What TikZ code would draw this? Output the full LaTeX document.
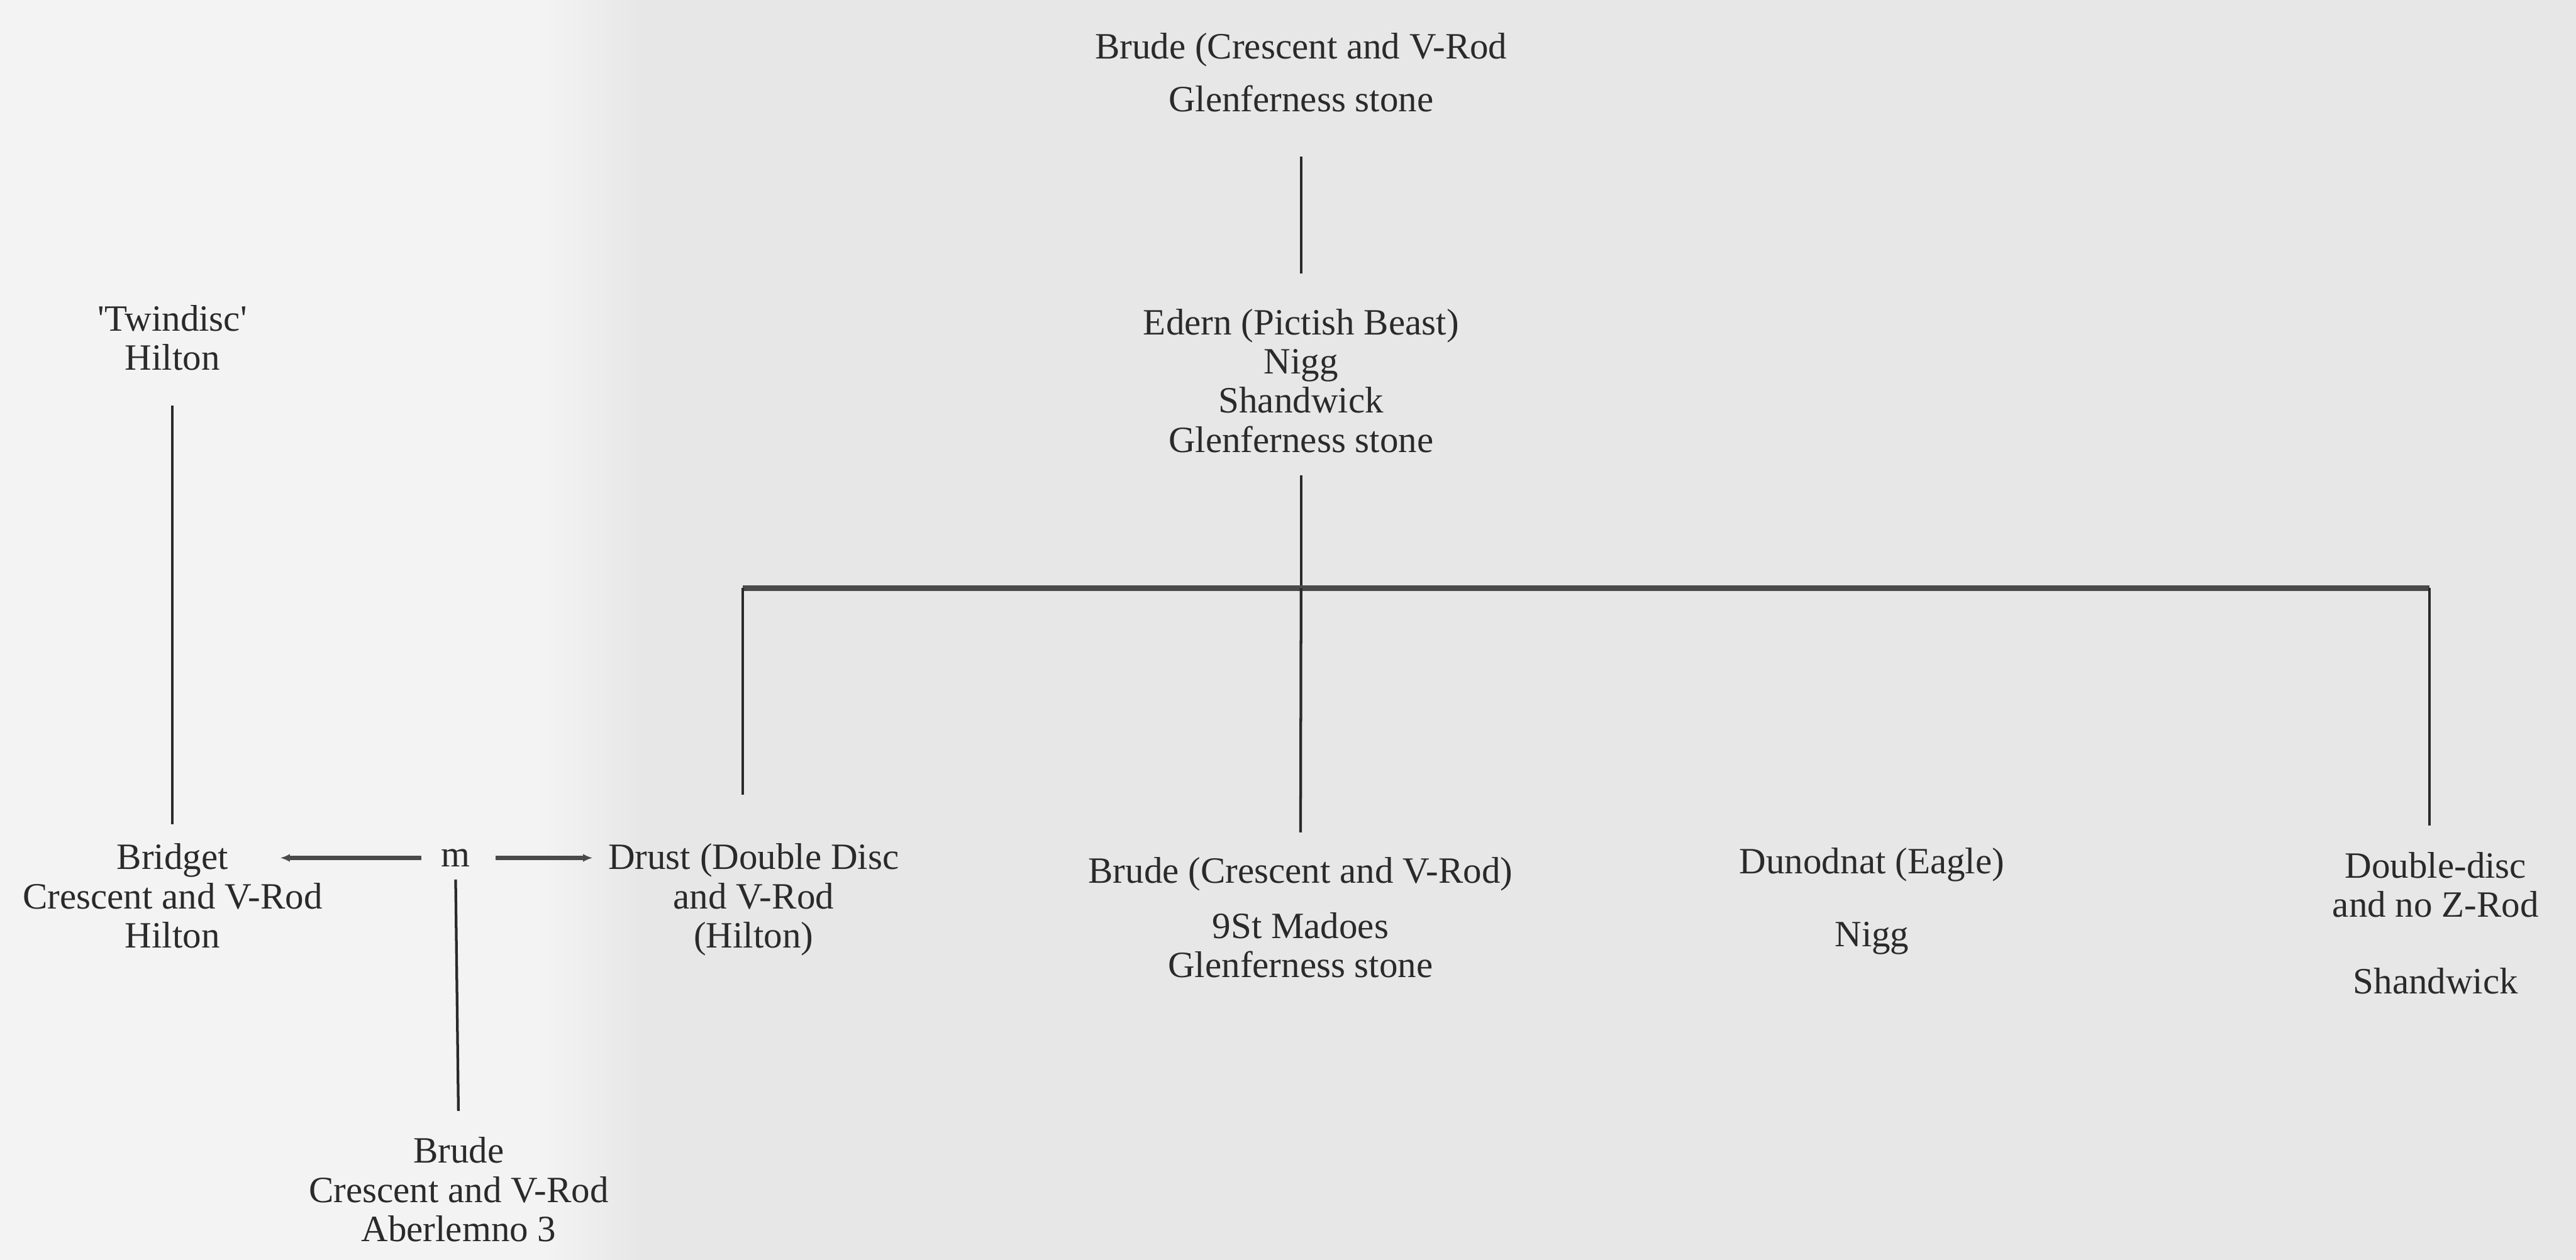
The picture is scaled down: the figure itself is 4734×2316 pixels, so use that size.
\documentclass[tikz,border=0pt]{standalone}
\usepackage{fontspec}
\setmainfont{Liberation Serif}
\usetikzlibrary{arrows.meta}
\definecolor{paper}{RGB}{231,231,231}
\definecolor{paperlight}{RGB}{243,243,243}
\definecolor{ink}{RGB}{42,42,42}
\begin{document}
\begin{tikzpicture}[x=0.01cm,y=-0.01cm,
        stone/.style={anchor=north,align=center,inner sep=0pt,text=ink,
            font=\fontsize{19.4pt}{20.5pt}\selectfont},
        link/.style={draw=ink,line width=1.4pt},
        bar/.style={draw=ink!85,line width=2.8pt},
        marriage/.style={draw=ink!85,line width=2.4pt,-{Latex[length=5pt,width=4.2pt]}}]
    \useasboundingbox (0,0) rectangle (4734,2316);
    \fill[paper] (0,0) rectangle (4734,2316);
    \fill[paperlight] (0,0) rectangle (1000,2316);
    \shade[left color=paperlight,right color=paper] (999,0) rectangle (1180,2316);

    \node[stone] (brudeTop) at (2391,60) {Brude (Crescent and V-Rod\\[7pt]Glenferness stone};
    \node[stone] (edern) at (2391,567) {Edern (Pictish Beast)\\Nigg\\Shandwick\\Glenferness stone};
    \node[stone] (twin) at (317,560) {\textquotesingle Twindisc\textquotesingle\\Hilton};
    \node[stone] (bridget) at (317,1550) {Bridget\\Crescent and V-Rod\\Hilton};
    \node[stone,anchor=center] (m) at (837,1577) {m};
    \node[stone] (drust) at (1385,1550) {Drust (Double Disc\\and V-Rod\\(Hilton)};
    \node[stone] (brude) at (2390,1575) {Brude (Crescent and V-Rod)\\[8.5pt]9St Madoes\\Glenferness stone};
    \node[stone] (dunodnat) at (3440,1558) {Dunodnat (Eagle)\\[17.5pt]Nigg};
    \node[stone] (dbldisc) at (4476,1566) {Double-disc\\and no Z-Rod\\[19.5pt]Shandwick};
    \node[stone] (brudeAb) at (843,2090) {Brude\\Crescent and V-Rod\\Aberlemno 3};

    \coordinate (fork) at (2391,1081);
    \coordinate (forkL) at (1365,1081);
    \coordinate (forkR) at (4465,1081);
    \coordinate (toBridget) at (515,1577);

    \draw[link,shorten <=0.82cm,shorten >=0.64cm] (brudeTop.south) -- (edern.north);
    \draw[link,shorten <=0.41cm] (edern.south) -- (fork);
    \draw[bar] (forkL) -- (forkR);
    \draw[link,shorten >=0.89cm] (forkL) -- (forkL |- drust.north);
    \draw[link,shorten >=0.45cm] (fork) -- (brude.north);
    \draw[link,shorten >=0.48cm] (forkR) -- (forkR |- dbldisc.north);
    \draw[link,shorten <=0.64cm,shorten >=0.35cm] (twin.south) -- (bridget.north);
    \draw[link,shorten <=0.23cm,shorten >=0.48cm] (m.south) -- (brudeAb.north);
    \draw[marriage,shorten <=0.35cm] (m.west) -- (toBridget);
    \draw[marriage,shorten <=0.47cm,shorten >=0.28cm] (m.east) -- (m -| drust.west);
\end{tikzpicture}
\end{document}
